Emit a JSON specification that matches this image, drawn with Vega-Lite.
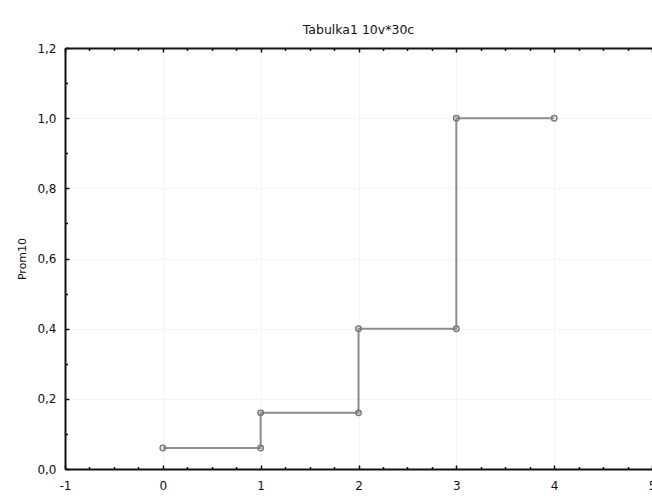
{
  "$schema": "https://vega.github.io/schema/vega-lite/v6.json",
  "width": 587,
  "height": 421,
  "autosize": {"type": "none"},
  "padding": {"left": 65, "top": 48, "right": 0, "bottom": 27},
  "background": "white",
  "title": {"text": "Tabulka1 10v*30c", "font": "DejaVu Sans", "fontSize": 12.5, "fontWeight": "normal", "color": "#111", "offset": 6},
  "config": {
    "view": {"stroke": null},
    "axis": {"labelFont": "DejaVu Sans", "titleFont": "DejaVu Sans", "labelFontSize": 12, "labelColor": "#111", "titleColor": "#111", "titleFontWeight": "normal", "titleFontSize": 11, "domainColor": "#111", "domainWidth": 2, "tickColor": "#111", "gridColor": "#f4f4f4", "gridWidth": 1}
  },
  "data": {"values": [
    {"ord": 1, "x": 0, "Prom10": 0.06},
    {"ord": 2, "x": 1, "Prom10": 0.06},
    {"ord": 3, "x": 1, "Prom10": 0.16},
    {"ord": 4, "x": 2, "Prom10": 0.16},
    {"ord": 5, "x": 2, "Prom10": 0.40},
    {"ord": 6, "x": 3, "Prom10": 0.40},
    {"ord": 7, "x": 3, "Prom10": 1.0},
    {"ord": 8, "x": 4, "Prom10": 1.0}
  ]},
  "resolve": {"axis": {"x": "independent", "y": "independent"}},
  "layer": [
    {
      "mark": {"type": "line", "color": "#8c8c8c", "strokeWidth": 2},
      "encoding": {
        "x": {"field": "x", "type": "quantitative", "scale": {"domain": [-1, 5], "nice": false, "zero": false},
          "axis": {"title": null, "values": [-1,-0.75,-0.5,-0.25,0,0.25,0.5,0.75,1,1.25,1.5,1.75,2,2.25,2.5,2.75,3,3.25,3.5,3.75,4,4.25,4.5,4.75,5],
            "labelExpr": "datum.value % 1 == 0 ? '' + datum.value : ''",
            "grid": true, "gridOpacity": {"condition": {"test": "datum.value % 1 == 0", "value": 1}, "value": 0},
            "tickSize": {"condition": {"test": "datum.value % 1 == 0", "value": -4}, "value": -2.5},
            "tickWidth": 1.5, "labelPadding": 15, "labelFlush": false, "labelOverlap": false}},
        "y": {"field": "Prom10", "type": "quantitative", "scale": {"domain": [0, 1.2], "nice": false},
          "axis": {"title": "Prom10", "values": [0,0.1,0.2,0.3,0.4,0.5,0.6,0.7,0.8,0.9,1.0,1.1,1.2],
            "labelExpr": "abs(datum.value*10 % 2) < 0.001 ? replace(format(datum.value, '.1f'), '.', ',') : ''",
            "grid": true, "gridOpacity": {"condition": {"test": "abs(datum.value*10 % 2) < 0.001", "value": 1}, "value": 0},
            "tickSize": {"condition": {"test": "abs(datum.value*10 % 2) < 0.001", "value": -4}, "value": -2.5},
            "tickWidth": 1.5, "labelPadding": 13, "labelFlush": false, "labelOverlap": false, "titlePadding": 9}},
        "order": {"field": "ord", "type": "quantitative"}
      }
    },
    {
      "mark": {"type": "point", "shape": "circle", "filled": false, "color": "#7a7a7a", "strokeWidth": 1.5, "size": 30, "opacity": 1},
      "encoding": {
        "x": {"field": "x", "type": "quantitative",
          "axis": {"orient": "top", "title": null, "values": [-1,-0.75,-0.5,-0.25,0,0.25,0.5,0.75,1,1.25,1.5,1.75,2,2.25,2.5,2.75,3,3.25,3.5,3.75,4,4.25,4.5,4.75,5],
            "labels": false, "grid": false, "tickSize": {"condition": {"test": "datum.value % 1 == 0", "value": -4}, "value": -2.5}, "tickWidth": 1.5}},
        "y": {"field": "Prom10", "type": "quantitative",
          "axis": null}
      }
    }
  ]
}
